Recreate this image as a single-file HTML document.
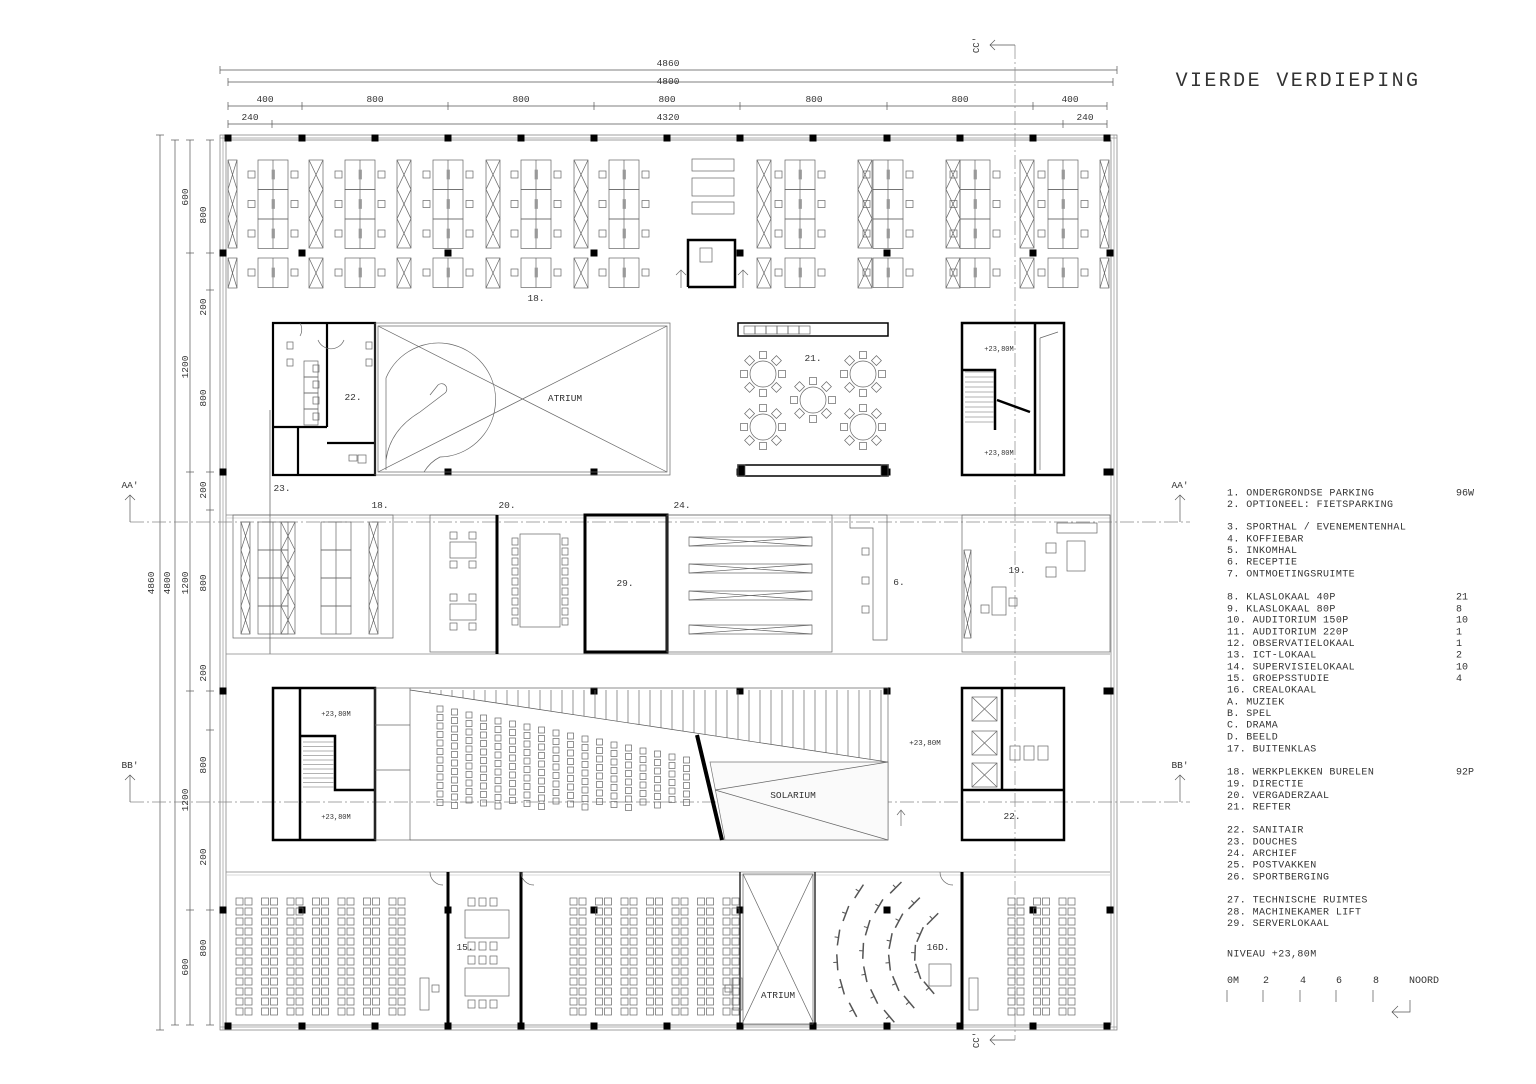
<!DOCTYPE html>
<html><head><meta charset="utf-8"><style>
html,body{margin:0;padding:0;background:#fff;}
svg{display:block}
text{font-family:"Liberation Mono",monospace;fill:#333;}
</style></head><body>
<svg id="s" width="1536" height="1084" viewBox="0 0 1536 1084" xmlns="http://www.w3.org/2000/svg">
<g id="g" fill="none" stroke="#666" stroke-width="0.7"></g>
<g id="t" font-size="9.5"></g>
</svg>
<script>
const NS="http://www.w3.org/2000/svg",G=document.getElementById('g'),T=document.getElementById('t');
function el(n,a,p){const e=document.createElementNS(NS,n);for(const k in a)e.setAttribute(k,a[k]);(p||G).appendChild(e);return e;}
function R(x,y,w,h,o){return el('rect',Object.assign({x,y,width:w,height:h},o||{}));}
function L(x1,y1,x2,y2,o){return el('line',Object.assign({x1,y1,x2,y2},o||{}));}
function P(d,o){return el('path',Object.assign({d},o||{}));}
function TX(x,y,s,o){const e=el('text',Object.assign({x,y},o||{}),T);e.textContent=s;return e;}
function C(x,y){R(x-3.5,y-3.5,7,7,{fill:'#000',stroke:'none'});}
const TH={stroke:'#000','stroke-width':3};
const dk={stroke:'#555','stroke-width':0.7};
function hdim(y,xs){L(xs[0],y,xs[xs.length-1],y,dk);xs.forEach(x=>L(x,y-4,x,y+4,dk));}
hdim(70,[220,1117]);TX(668,66,"4860",{'text-anchor':'middle'});
hdim(82,[228,1113]);TX(668,84,"4800",{'text-anchor':'middle'});
hdim(106,[228,302,448,594,740,887,1033,1107]);
[["400",265],["800",375],["800",521],["800",667],["800",814],["800",960],["400",1070]].forEach(a=>TX(a[1],102,a[0],{'text-anchor':'middle'}));
hdim(124,[228,272,1063,1107]);
TX(250,120,"240",{'text-anchor':'middle'});TX(668,120,"4320",{'text-anchor':'middle'});TX(1085,120,"240",{'text-anchor':'middle'});
function vdim(x,ys){L(x,ys[0],x,ys[ys.length-1],dk);ys.forEach(y=>L(x-4,y,x+4,y,dk));}
vdim(160,[135,1030]);vdim(175,[140,1025]);vdim(190,[140,253,472,691,910,1025]);
vdim(210,[140,253,290,472,510,691,730,910,1025]);
function vt(x,y,s){TX(x,y,s,{transform:`rotate(-90 ${x} ${y})`,'text-anchor':'middle'});}
vt(188,197,"600");vt(206,215,"800");vt(206,307,"200");vt(188,367,"1200");vt(206,398,"800");vt(206,490,"200");
vt(154,583,"4860");vt(170,583,"4800");vt(188,583,"1200");vt(206,583,"800");vt(206,673,"200");
vt(206,765,"800");vt(188,800,"1200");vt(206,857,"200");vt(206,948,"800");vt(188,967,"600");
const dd={stroke:'#888','stroke-width':0.7,'stroke-dasharray':'14 3 2 3'};
L(130,522,1190,522,dd);L(130,802,1190,802,dd);L(1015,45,1015,1040,dd);
[[130,"AA'",488],[1180,"AA'",488],[130,"BB'",768],[1180,"BB'",768]].forEach(a=>{TX(a[0],a[2],a[1],{'text-anchor':'middle'});L(a[0],a[2]+7,a[0],a[2]+34,dk);P(`M${a[0]-5},${a[2]+12} L${a[0]},${a[2]+7} L${a[0]+5},${a[2]+12}`,dk);});
TX(979,45,"CC'",{transform:'rotate(-90 979 45)','text-anchor':'middle','font-size':9});
P("M1015,45 L990,45 M995,40 L990,45 L995,50",dk);
TX(979,1040,"CC'",{transform:'rotate(-90 979 1040)','text-anchor':'middle','font-size':9});
P("M1015,1040 L990,1040 M995,1035 L990,1040 L995,1045",dk);
R(220,135,897,895,{stroke:'#777'});
R(226,140,885,885,{stroke:'#777'});
L(220,138,1117,138,{stroke:'#999'});L(220,1027,1117,1027,{stroke:'#999'});
L(223,135,223,1030,{stroke:'#999'});L(1114,135,1114,1030,{stroke:'#999'});
const cx=[228,302,375,448,521,594,667,740,813,887,960,1033,1107];
cx.forEach(x=>{C(x,138);C(x,1026);});
[253,472,691,910].forEach(y=>{C(223,y);C(1110,y);});
[302,448,594,740,887,1033].forEach(x=>C(x,253));
[448,594,740,887,1107].forEach(x=>C(x,472));
[594,740,887,1107].forEach(x=>C(x,691));
[302,448,594,740,887,1033].forEach(x=>C(x,910));
function storage(x,y,w,h){R(x,y,w,h);const n=Math.round(h/30);for(let i=0;i<n;i++){const yy=y+i*h/n;L(x,yy,x+w,yy+h/n);L(x+w,yy,x,yy+h/n);}}
function desks(x,y,rows){for(let r=0;r<rows;r++){const yy=y+r*29.5;R(x,yy,30,29.5);L(x+15,yy,x+15,yy+29.5);R(x+14,yy+10,2.5,9,{fill:'#999',stroke:'#999'});R(x-10,yy+11,7,7);R(x+33,yy+11,7,7);}}
const st=[228,309,397,486,574,757,858,946,1020,1100],dx=[258,345,433,521,609,785,873,960,1048];
st.forEach(x=>{storage(x,160,(x==228||x==1100)?9:14,88);storage(x,258,(x==228||x==1100)?9:14,30);});
dx.forEach(x=>{desks(x,160,3);desks(x,258,1);});
R(692,159,42,12);R(692,178,42,18);R(692,202,42,12);
P("M688,287 L688,240 L735,240 L735,287 L688,287",{stroke:'#000','stroke-width':2.5});R(700,248,12,14);
L(681,270,681,288);P("M676,275 L681,270 L686,275");L(743,270,743,288);P("M738,275 L743,270 L748,275");
TX(536,301,"18.",{'text-anchor':'middle'});
P("M273,475 L273,323 L375,323 L375,475 Z M327,323 L327,427 M273,427 L327,427 M298,427 L298,475 M327,443 L375,443",{stroke:'#000','stroke-width':2.2});
[[290,345],[290,362],[369,345],[369,362]].forEach(a=>R(a[0]-3,a[1]-3,6,7));
for(let i=0;i<4;i++){R(304,361+i*16,14,16);R(313,365+i*16,6,7);}
P("M300,336 A13,13 0 0 0 300,323 M318,340 A14,14 0 0 0 344,340",{});
TX(353,400,"22.",{'text-anchor':'middle'});TX(282,491,"23.",{'text-anchor':'middle'});
L(270,410,270,654,dk);
R(349,455,8,6);R(358,455,8,8);
R(375,323,295,152);R(378,326,289,146);L(378,326,667,472);L(667,326,378,472);
P("M386,470 L386,378 A57,57 0 1 1 440,457 Q430,462 424,472 M386,460 Q390,430 420,412 L445,393 A5,5 0 1 0 438,385 L430,395");
TX(565,401,"ATRIUM",{'text-anchor':'middle'});
R(738,323,150,13,{stroke:'#000','stroke-width':1.5});for(let i=0;i<6;i++)R(744+i*11,326,11,8);
R(738,465,150,11,{stroke:'#000','stroke-width':1.5});R(738,465,7,11,{fill:'#000'});R(881,465,7,11,{fill:'#000'});
[[763,374],[863,374],[813,400],[763,427],[863,427]].forEach(a=>{el('circle',{cx:a[0],cy:a[1],r:13});for(let k=0;k<8;k++){const an=k*Math.PI/4,x=a[0]+19*Math.cos(an),y=a[1]+19*Math.sin(an);R(x-3.5,y-3.5,7,7,{transform:`rotate(${k*45} ${x} ${y})`});}});
TX(813,361,"21.",{'text-anchor':'middle'});
P("M962,475 L962,323 L1064,323 L1064,475 Z M1035,323 L1035,475 M962,370 L995,370 L995,430 M997,400 L1030,412",{stroke:'#000','stroke-width':2.5});
for(let i=0;i<11;i++)L(965,372+i*5,994,372+i*5,{stroke:'#999'});
L(1040,338,1058,332);L(1040,338,1040,470);
TX(999,351,"+23,80M",{'text-anchor':'middle','font-size':7});TX(999,455,"+23,80M",{'text-anchor':'middle','font-size':7});
L(226,515,1110,515,{stroke:'#888'});L(226,654,1110,654,{stroke:'#888'});L(226,518,1110,518,{stroke:'#ccc'});
R(233,515,160,123);storage(241,522,9,112);storage(281,522,14,112);storage(369,522,9,112);
[258,321].forEach(x=>{for(let r=0;r<4;r++){R(x,522+r*28,30,28);L(x+15,522+r*28,x+15,550+r*28);}});
TX(380,508,"18.",{'text-anchor':'middle'});
R(430,515,67,137);R(585,515,82,137,{stroke:'#000','stroke-width':3});L(497,515,497,654,TH);
[[463,550],[463,612]].forEach(a=>{R(a[0]-13,a[1]-8,26,16);R(a[0]-13,a[1]-18,7,7);R(a[0]+6,a[1]-18,7,7);R(a[0]-13,a[1]+11,7,7);R(a[0]+6,a[1]+11,7,7);});
R(520,534,40,93);for(let i=0;i<9;i++){R(512,538+i*10,6,7);R(562,538+i*10,6,7);}
TX(507,508,"20.",{'text-anchor':'middle'});TX(625,586,"29.",{'text-anchor':'middle'});TX(682,508,"24.",{'text-anchor':'middle'});
R(667,515,165,137);[537,564,591,625].forEach(y=>{R(689,y,123,9);L(689,y,812,y+9);L(689,y+9,812,y);});
P("M850,515 L887,515 L887,640 L873,640 L873,528 L850,528 Z");[548,577,606].forEach(y=>R(862,y,7,7));TX(899,585,"6.",{'text-anchor':'middle'});
R(962,515,148,137);storage(964,550,7,88);R(1057,523,40,10);R(1067,541,18,30);R(1046,543,10,10);R(1046,567,10,10);R(992,587,14,28);R(1009,598,8,8);R(981,605,8,8);
TX(1017,573,"19.",{'text-anchor':'middle'});
P("M273,840 L273,688 L375,688 L375,840 Z M300,688 L300,840 M300,736 L335,736 L335,790 L375,790",{stroke:'#000','stroke-width':2.5});
for(let i=0;i<11;i++)L(303,742+i*4.5,334,742+i*4.5,{stroke:'#999'});
TX(336,716,"+23,80M",{'text-anchor':'middle','font-size':7});TX(336,819,"+23,80M",{'text-anchor':'middle','font-size':7});
R(375,688,35,152);L(375,725,410,725);L(375,770,410,770);
P("M410,690 L888,762 L888,840 L410,840",{stroke:'#555'});L(410,688,888,688);L(888,688,888,840);
for(let x=430;x<888;x+=11){const y=690+(x-410)*72/478;L(x,690,x,y);}
for(let c=0;c<19;c++){const x=437+c*14.5,top=706+c*3;for(let y=top;y<805;y+=8.5)if(x<690)R(x,y,6,6);}
P("M697,735 L722,840",{stroke:'#000','stroke-width':4});
P("M710,762 L888,762 L888,840 L725,840 Z",{fill:'#fafafa',stroke:'#777'});L(715,790,888,762);L(715,790,888,840);
TX(793,798,"SOLARIUM",{'text-anchor':'middle'});TX(925,745,"+23,80M",{'text-anchor':'middle','font-size':7.5});
L(901,810,901,826);P("M897,815 L901,810 L905,815");
P("M962,840 L962,688 L1064,688 L1064,840 Z M962,790 L1064,790 M1002,688 L1002,790",{stroke:'#000','stroke-width':2.5});
[[972,697],[972,731],[972,763]].forEach(a=>{R(a[0],a[1],25,24);L(a[0],a[1],a[0]+25,a[1]+24);L(a[0]+25,a[1],a[0],a[1]+24);});
for(let i=0;i<3;i++){R(1010+i*14,746,10,14);}TX(1012,819,"22.",{'text-anchor':'middle'});
L(226,872,1110,872,{stroke:'#888'});L(226,875,1110,875,{stroke:'#ccc'});
[448,521,962].forEach(x=>L(x,872,x,1025,TH));L(740,872,740,1025,{stroke:'#000','stroke-width':1.2});L(815,872,815,1025,{stroke:'#000','stroke-width':1.2});
function seats(x0,pairs,y0){for(let p=0;p<pairs;p++)for(let s=0;s<2;s++){const x=x0+p*25.5+s*9;for(let r=0;r<12;r++)R(x,y0+r*10,7,7);}}
seats(236,7,898);seats(570,7,898);seats(1008,3,898);
R(420,978,9,32);R(432,985,7,7);R(733,978,9,32);R(725,985,7,7);R(969,978,9,32);
[[485,920],[485,978]].forEach(a=>{R(a[0]-20,a[1]-10,44,28);for(let i=0;i<3;i++){R(a[0]-17+i*11,a[1]-22,7,8);R(a[0]-17+i*11,a[1]+22,7,8);}});
TX(465,950,"15.",{'text-anchor':'middle'});
R(743,874,70,150);L(743,874,813,1022);L(813,874,743,1022);TX(778,998,"ATRIUM",{'text-anchor':'middle'});
for(let ring=0;ring<4;ring++){const rad=60+ring*26,n=5+ring;for(let k=0;k<n;k++){const deg=140+k*(85/(n-1)),an=deg*Math.PI/180,x=975+rad*Math.cos(an),y=955+rad*Math.sin(an)*0.85;if(x<820||y<880||y>1018)continue;L(x-8,y,x+8,y,{stroke:'#555','stroke-width':1.5,transform:`rotate(${deg-90} ${x} ${y})`});L(x,y,x,y+4,{stroke:'#555','stroke-width':1,transform:`rotate(${deg-90} ${x} ${y})`});}}
R(929,964,22,22);TX(938,950,"16D.",{'text-anchor':'middle'});
[[430,872],[521,872],[940,872]].forEach(a=>P(`M${a[0]},${a[1]} A13,13 0 0 0 ${a[0]+13},${a[1]+13}`));
TX(1298,86,"VIERDE  VERDIEPING",{'text-anchor':'middle','font-size':20,'letter-spacing':2.4,'xml:space':'preserve'});
const leg=[[492,"1. ONDERGRONDSE PARKING","96W"],[503.5,"2. OPTIONEEL: FIETSPARKING"],[526,"3. SPORTHAL / EVENEMENTENHAL"],[538,"4. KOFFIEBAR"],[549.5,"5. INKOMHAL"],[561,"6. RECEPTIE"],[573,"7. ONTMOETINGSRUIMTE"],
[596,"8. KLASLOKAAL 40P","21"],[608,"9. KLASLOKAAL 80P","8"],[619,"10. AUDITORIUM 150P","10"],[631,"11. AUDITORIUM 220P","1"],[642.5,"12. OBSERVATIELOKAAL","1"],[654,"13. ICT-LOKAAL","2"],[666,"14. SUPERVISIELOKAAL","10"],[677.5,"15. GROEPSSTUDIE","4"],[689,"16. CREALOKAAL"],[701," A. MUZIEK"],[712.5," B. SPEL"],[724," C. DRAMA"],[736," D. BEELD"],[748,"17. BUITENKLAS"],
[771,"18. WERKPLEKKEN BURELEN","92P"],[783,"19. DIRECTIE"],[794.5,"20. VERGADERZAAL"],[806,"21. REFTER"],[829,"22. SANITAIR"],[841,"23. DOUCHES"],[852.5,"24. ARCHIEF"],[864,"25. POSTVAKKEN"],[876,"26. SPORTBERGING"],[899,"27. TECHNISCHE RUIMTES"],[911,"28. MACHINEKAMER LIFT"],[922.5,"29. SERVERLOKAAL"],[953,"NIVEAU +23,80M"]];
leg.forEach(a=>{TX(1227,a[0]+3.5,a[1],{'xml:space':'preserve','font-size':10,'letter-spacing':0.4});if(a[2])TX(1456,a[0]+3.5,a[2],{'font-size':10});});
[["0M",1227],["2",1263],["4",1300],["6",1336],["8",1373],["NOORD",1409]].forEach(a=>TX(a[1],983,a[0],{'font-size':10}));
[1227,1263,1300,1336,1373].forEach(x=>L(x,990,x,1002,dk));
P("M1410,1000 L1410,1012 L1392,1012 M1398,1006 L1392,1012 L1398,1018",dk);
</script>
</body></html>
